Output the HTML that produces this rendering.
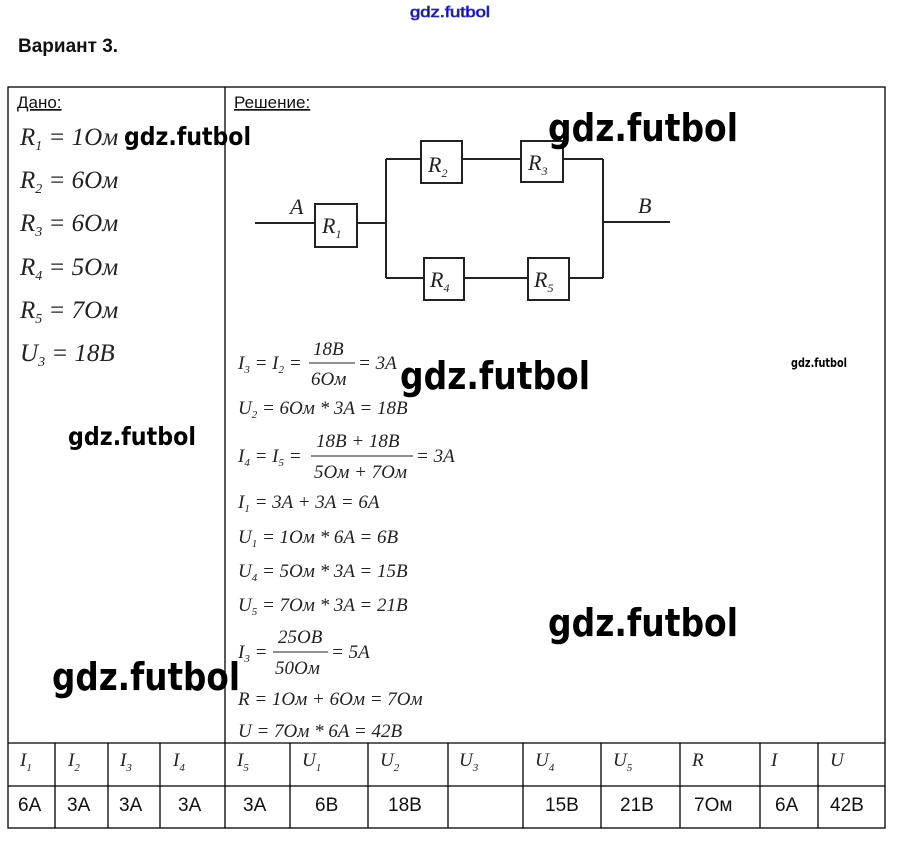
<!DOCTYPE html>
<html><head><meta charset="utf-8"><style>
html,body{margin:0;padding:0;background:#fff;}
svg{display:block}
.m{font-family:"Liberation Serif",serif;font-style:italic;fill:#222}
.s{font-family:"Liberation Sans",sans-serif;fill:#111}
.w{font-family:"DejaVu Sans","Liberation Sans",sans-serif;font-weight:bold;fill:#000}
</style></head><body>
<svg width="901" height="843" viewBox="0 0 901 843" xmlns="http://www.w3.org/2000/svg">
<text x="410" y="17" class="s" font-size="15" fill="#fff" stroke="#33c" stroke-width="0.8" textLength="80" lengthAdjust="spacingAndGlyphs">gdz.futbol</text>
<text x="18" y="52" class="s" font-size="19" font-weight="bold">Вариант 3.</text>
<g stroke="#000" stroke-width="1.3" fill="none">
<rect x="8" y="87" width="877" height="741"/>
<line x1="225" y1="87" x2="225" y2="743"/>
<line x1="8" y1="743" x2="885" y2="743"/>
<line x1="8" y1="786" x2="885" y2="786"/>
<line x1="55" y1="743" x2="55" y2="828"/><line x1="108" y1="743" x2="108" y2="828"/>
<line x1="160" y1="743" x2="160" y2="828"/><line x1="225" y1="743" x2="225" y2="828"/>
<line x1="290" y1="743" x2="290" y2="828"/><line x1="368" y1="743" x2="368" y2="828"/>
<line x1="448" y1="743" x2="448" y2="828"/><line x1="523" y1="743" x2="523" y2="828"/>
<line x1="601" y1="743" x2="601" y2="828"/><line x1="680" y1="743" x2="680" y2="828"/>
<line x1="760" y1="743" x2="760" y2="828"/><line x1="818" y1="743" x2="818" y2="828"/>
</g>
<text x="17" y="108" class="s" font-size="17" text-decoration="underline">Дано:</text>
<text x="234" y="108" class="s" font-size="17" text-decoration="underline">Решение:</text>
<g class="m" font-size="25">
<text x="20" y="145">R<tspan font-size="14" dy="5">1</tspan><tspan dy="-5"> = 1Ом</tspan></text>
<text x="20" y="188">R<tspan font-size="14" dy="5">2</tspan><tspan dy="-5"> = 6Ом</tspan></text>
<text x="20" y="231">R<tspan font-size="14" dy="5">3</tspan><tspan dy="-5"> = 6Ом</tspan></text>
<text x="20" y="275">R<tspan font-size="14" dy="5">4</tspan><tspan dy="-5"> = 5Ом</tspan></text>
<text x="20" y="318">R<tspan font-size="14" dy="5">5</tspan><tspan dy="-5"> = 7Ом</tspan></text>
<text x="20" y="361">U<tspan font-size="14" dy="5">3</tspan><tspan dy="-5"> = 18В</tspan></text>
</g>
<g stroke="#222" stroke-width="2" fill="none">
<line x1="255" y1="223" x2="315" y2="223"/>
<rect x="315" y="204" width="42" height="43"/>
<line x1="357" y1="223" x2="386" y2="223"/>
<line x1="386" y1="159" x2="386" y2="278"/>
<line x1="386" y1="159" x2="421" y2="159"/>
<rect x="421" y="141" width="41" height="42"/>
<line x1="462" y1="159" x2="521" y2="159"/>
<rect x="521" y="141" width="42" height="41"/>
<line x1="563" y1="159" x2="603" y2="159"/>
<line x1="386" y1="278" x2="424" y2="278"/>
<rect x="424" y="258" width="40" height="42"/>
<line x1="464" y1="278" x2="528" y2="278"/>
<rect x="528" y="258" width="41" height="42"/>
<line x1="569" y1="278" x2="603" y2="278"/>
<line x1="603" y1="159" x2="603" y2="278"/>
<line x1="603" y1="222" x2="670" y2="222"/>
</g>
<g class="m" font-size="22">
<text x="290" y="214">A</text><text x="638" y="213">B</text>
<text x="322" y="233">R<tspan font-size="12" dy="5">1</tspan></text>
<text x="428" y="172">R<tspan font-size="12" dy="5">2</tspan></text>
<text x="528" y="170">R<tspan font-size="12" dy="5">3</tspan></text>
<text x="430" y="287">R<tspan font-size="12" dy="5">4</tspan></text>
<text x="534" y="287">R<tspan font-size="12" dy="5">5</tspan></text>
</g>
<g class="m" font-size="19">
<text x="238" y="369">I<tspan font-size="11" dy="4">3</tspan><tspan dy="-4"> = I</tspan><tspan font-size="11" dy="4">2</tspan><tspan dy="-4"> =</tspan></text>
<text x="313" y="355">18B</text><text x="311" y="385">6Ом</text>
<line x1="309" y1="363" x2="355" y2="363" stroke="#222" stroke-width="1"/>
<text x="358" y="369">= 3A</text>
<text x="238" y="414">U<tspan font-size="11" dy="4">2</tspan><tspan dy="-4"> = 6Ом * 3A = 18B</tspan></text>
<text x="238" y="462">I<tspan font-size="11" dy="4">4</tspan><tspan dy="-4"> = I</tspan><tspan font-size="11" dy="4">5</tspan><tspan dy="-4"> =</tspan></text>
<text x="316" y="447">18B + 18B</text><text x="314" y="478">5Ом + 7Ом</text>
<line x1="311" y1="456" x2="413" y2="456" stroke="#222" stroke-width="1"/>
<text x="416" y="462">= 3A</text>
<text x="238" y="508">I<tspan font-size="11" dy="4">1</tspan><tspan dy="-4"> = 3A + 3A = 6A</tspan></text>
<text x="238" y="543">U<tspan font-size="11" dy="4">1</tspan><tspan dy="-4"> = 1Ом * 6A = 6B</tspan></text>
<text x="238" y="577">U<tspan font-size="11" dy="4">4</tspan><tspan dy="-4"> = 5Ом * 3A = 15B</tspan></text>
<text x="238" y="611">U<tspan font-size="11" dy="4">5</tspan><tspan dy="-4"> = 7Ом * 3A = 21B</tspan></text>
<text x="238" y="658">I<tspan font-size="11" dy="4">3</tspan><tspan dy="-4"> =</tspan></text>
<text x="278" y="643">25ОB</text><text x="275" y="674">50Ом</text>
<line x1="273" y1="652" x2="328" y2="652" stroke="#222" stroke-width="1"/>
<text x="331" y="658">= 5A</text>
<text x="238" y="705">R = 1Ом + 6Ом = 7Ом</text>
<text x="238" y="737">U = 7Ом * 6A = 42B</text>
</g>
<g class="m" font-size="19">
<text x="20" y="766">I<tspan font-size="11" dy="5">1</tspan></text>
<text x="68" y="766">I<tspan font-size="11" dy="5">2</tspan></text>
<text x="120" y="766">I<tspan font-size="11" dy="5">3</tspan></text>
<text x="173" y="766">I<tspan font-size="11" dy="5">4</tspan></text>
<text x="237" y="766">I<tspan font-size="11" dy="5">5</tspan></text>
<text x="302" y="766">U<tspan font-size="11" dy="5">1</tspan></text>
<text x="380" y="766">U<tspan font-size="11" dy="5">2</tspan></text>
<text x="459" y="766">U<tspan font-size="11" dy="5">3</tspan></text>
<text x="535" y="766">U<tspan font-size="11" dy="5">4</tspan></text>
<text x="613" y="766">U<tspan font-size="11" dy="5">5</tspan></text>
<text x="692" y="766">R</text>
<text x="771" y="766">I</text>
<text x="830" y="766">U</text>
</g>
<g class="s" font-size="19">
<text x="18" y="811">6A</text><text x="67" y="811">3A</text><text x="119" y="811">3A</text>
<text x="178" y="811">3A</text><text x="243" y="811">3A</text><text x="315" y="811">6B</text>
<text x="388" y="811">18B</text><text x="545" y="811">15B</text><text x="620" y="811">21B</text>
<text x="694" y="811">7Ом</text><text x="775" y="811">6A</text><text x="830" y="811">42B</text>
</g>
<g class="w">
<text x="124" y="145" font-size="25" textLength="127" lengthAdjust="spacingAndGlyphs">gdz.futbol</text>
<text x="548" y="141" font-size="38" textLength="190" lengthAdjust="spacingAndGlyphs">gdz.futbol</text>
<text x="400" y="389" font-size="38" textLength="190" lengthAdjust="spacingAndGlyphs">gdz.futbol</text>
<text x="791" y="367" font-size="12" textLength="56" lengthAdjust="spacingAndGlyphs">gdz.futbol</text>
<text x="68" y="445" font-size="25" textLength="128" lengthAdjust="spacingAndGlyphs">gdz.futbol</text>
<text x="548" y="636" font-size="38" textLength="190" lengthAdjust="spacingAndGlyphs">gdz.futbol</text>
<text x="52" y="690" font-size="38" textLength="188" lengthAdjust="spacingAndGlyphs">gdz.futbol</text>
</g>
</svg>
</body></html>
